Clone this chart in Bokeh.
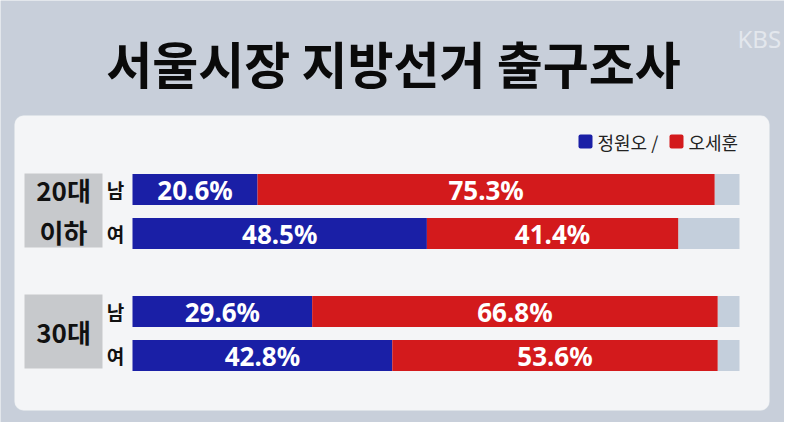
from bokeh.plotting import figure
from bokeh.models import Range1d, ColumnDataSource, BoxAnnotation
from bokeh.embed import file_html
from bokeh.resources import INLINE
from bokeh.core.properties import value

# ---------------- data ----------------
title_text = "서울시장 지방선거 출구조사"
candidates = ["정원오", "오세훈"]
group_labels = ["20대\n이하", "30대"]
sex_labels = ["남", "여", "남", "여"]
row_group = [0, 0, 1, 1]
row_sub = [0, 1, 0, 1]
jung = [20.6, 48.5, 29.6, 42.8]
oh = [75.3, 41.4, 66.8, 53.6]

# ---------------- layout ----------------
W, H = 784, 422
PPU = 6.07          # screen px per percentage point
X0PX = 132          # screen px of 0 %
def px2x(px):
    return (px - X0PX) / PPU

BLUE = "#1a1fa6"
RED = "#d31a1c"
REST = "#c4cfdc"
BG = "#c8cfda"
PANEL = "#f4f5f7"
GBOX = "#c7c9cc"

row_y = [189 + s * 44 + g * 122 for g, s in zip(row_group, row_sub)]
BAR_H = 31

p = figure(width=W, height=H, x_range=Range1d(px2x(0), px2x(W)),
           y_range=Range1d(H, 0), output_backend="svg", toolbar_location=None,
           x_axis_location=None, y_axis_location=None, min_border=0)
p.grid.visible = False
p.outline_line_color = None
p.background_fill_color = BG
p.border_fill_color = BG

# panel
p.add_layout(BoxAnnotation(left=px2x(14), right=px2x(769), top=115, bottom=410,
                           fill_color=PANEL, fill_alpha=1, line_color="#dfe3e8",
                           line_width=1, border_radius=9, level="underlay"))

# title and watermark
p.text(x=[px2x(393)], y=[61], text=[title_text], text_align="center",
       text_baseline="middle", text_font=value("Noto Sans CJK KR"),
       text_font_style="bold", text_font_size="50px", text_color="#0a0a0a")
p.text(x=[px2x(737)], y=[38], text=["KBS"], text_align="left",
       text_baseline="middle", text_font=value("Noto Sans"),
       text_font_size="24px", text_color="#e3e7ed")

# group boxes
g_top = [173, 294]
g_bot = [247, 368]
p.quad(left=[px2x(24)] * 2, right=[px2x(102)] * 2, top=g_top, bottom=g_bot,
       fill_color=GBOX, line_color=None)
p.text(x=[px2x(63)] * 2, y=[(t + b) / 2 for t, b in zip(g_top, g_bot)],
       text=group_labels, text_align="center", text_baseline="middle",
       text_font=value("Noto Sans CJK KR"), text_font_style="bold",
       text_font_size="26px", text_color="#111111", text_line_height=1.15)

# bars
ends = [j + o for j, o in zip(jung, oh)]
src = ColumnDataSource(dict(
    y=row_y, jung=jung, oh=oh, end=ends, full=[100] * 4, zero=[0] * 4,
    jmid=[j / 2 for j in jung], omid=[j + o / 2 for j, o in zip(jung, oh)],
    jtxt=[f"{v:.1f}%" for v in jung], otxt=[f"{v:.1f}%" for v in oh],
    sex=sex_labels, sx=[px2x(115)] * 4,
))
p.hbar(y="y", left="end", right="full", height=BAR_H, fill_color=REST,
       line_color=None, source=src)
p.hbar(y="y", left="zero", right="jung", height=BAR_H, fill_color=BLUE,
       line_color=None, source=src)
p.hbar(y="y", left="jung", right="end", height=BAR_H, fill_color=RED,
       line_color=None, source=src)

lbl = dict(text_align="center", text_baseline="middle",
           text_font=value("Noto Sans"), text_font_style="bold",
           text_font_size="26px", text_color="white", source=src)
p.text(x="jmid", y="y", text="jtxt", **lbl)
p.text(x="omid", y="y", text="otxt", **lbl)

p.text(x="sx", y="y", text="sex", text_align="center", text_baseline="middle",
       text_font=value("Noto Sans CJK KR"), text_font_style="bold",
       text_font_size="19px", text_color="#111111", source=src)

# legend
p.quad(left=[px2x(578), px2x(669)], right=[px2x(592), px2x(683)],
       top=[134, 134], bottom=[148, 148], fill_color=[BLUE, RED],
       line_color=None, border_radius=2)
p.text(x=[px2x(597), px2x(688)], y=[141, 141],
       text=[candidates[0] + " /", candidates[1]], text_align="left",
       text_baseline="middle", text_font=value("Noto Sans CJK KR"),
       text_font_style="normal", text_font_size="18px", text_color="#222222")

open("out.html", "w").write(file_html(p, INLINE))
